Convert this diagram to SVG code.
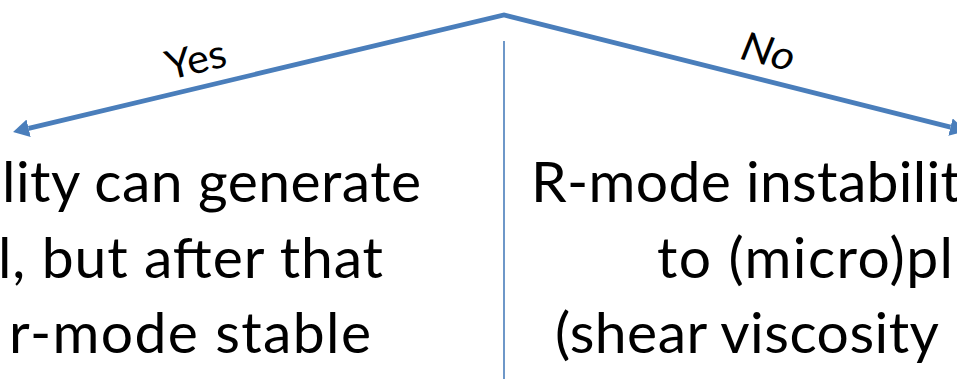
<svg xmlns="http://www.w3.org/2000/svg" width="957" height="379" viewBox="0 0 957 379">
  <style>
    .conn { fill: none; stroke: #4A7EBB; stroke-width: 4.8; stroke-linejoin: miter; }
    .divider { stroke: #4A7EBB; stroke-width: 1.6; }
    .body { font-family: Lato, "Open Sans", "Liberation Sans", sans-serif; font-size: 57px; fill: #000000; }
    .lbl { font-family: Lato, "Open Sans", "Liberation Sans", sans-serif; font-size: 40px; fill: #000000; }
  </style>
  <defs>
    <marker id="arrow" markerUnits="userSpaceOnUse" viewBox="0 0 16 18" markerWidth="16" markerHeight="18" refX="0" refY="9" orient="auto-start-reverse">
      <path d="M0,0 L16,9 L0,18 z" fill="#4A7EBB"/>
    </marker>
  </defs>
  <rect x="0" y="0" width="957" height="379" fill="#FFFFFF"/>

  <g id="connectors">
    <path class="conn" d="M28.6,128.3 L504,15 L950.5,127.1" marker-start="url(#arrow)" marker-end="url(#arrow)"/>
    <line class="divider" x1="504" y1="41" x2="504" y2="379"/>
    <text class="lbl" x="199" y="73" text-anchor="middle" textLength="61" lengthAdjust="spacingAndGlyphs" transform="rotate(-13.5 199 73)">Yes</text>
    <text class="lbl" x="765" y="65" text-anchor="middle" font-style="italic" textLength="54" lengthAdjust="spacingAndGlyphs" transform="rotate(14 765 65)">No</text>
  </g>

  <g id="node-yes">
    <text class="body" x="2" y="202" textLength="419" lengthAdjust="spacing">lity can generate</text>
    <text class="body" x="-2" y="278" textLength="385" lengthAdjust="spacing">l, but after that</text>
    <text class="body" x="9" y="353" textLength="362" lengthAdjust="spacing">r-mode stable</text>
  </g>

  <g id="node-no">
    <text class="body" x="531" y="202" textLength="430" lengthAdjust="spacing">R-mode instabilit</text>
    <text class="body" x="657" y="278" textLength="296" lengthAdjust="spacing">to (micro)pl</text>
    <text class="body" x="555" y="353" textLength="384" lengthAdjust="spacing">(shear viscosity</text>
  </g>
</svg>
